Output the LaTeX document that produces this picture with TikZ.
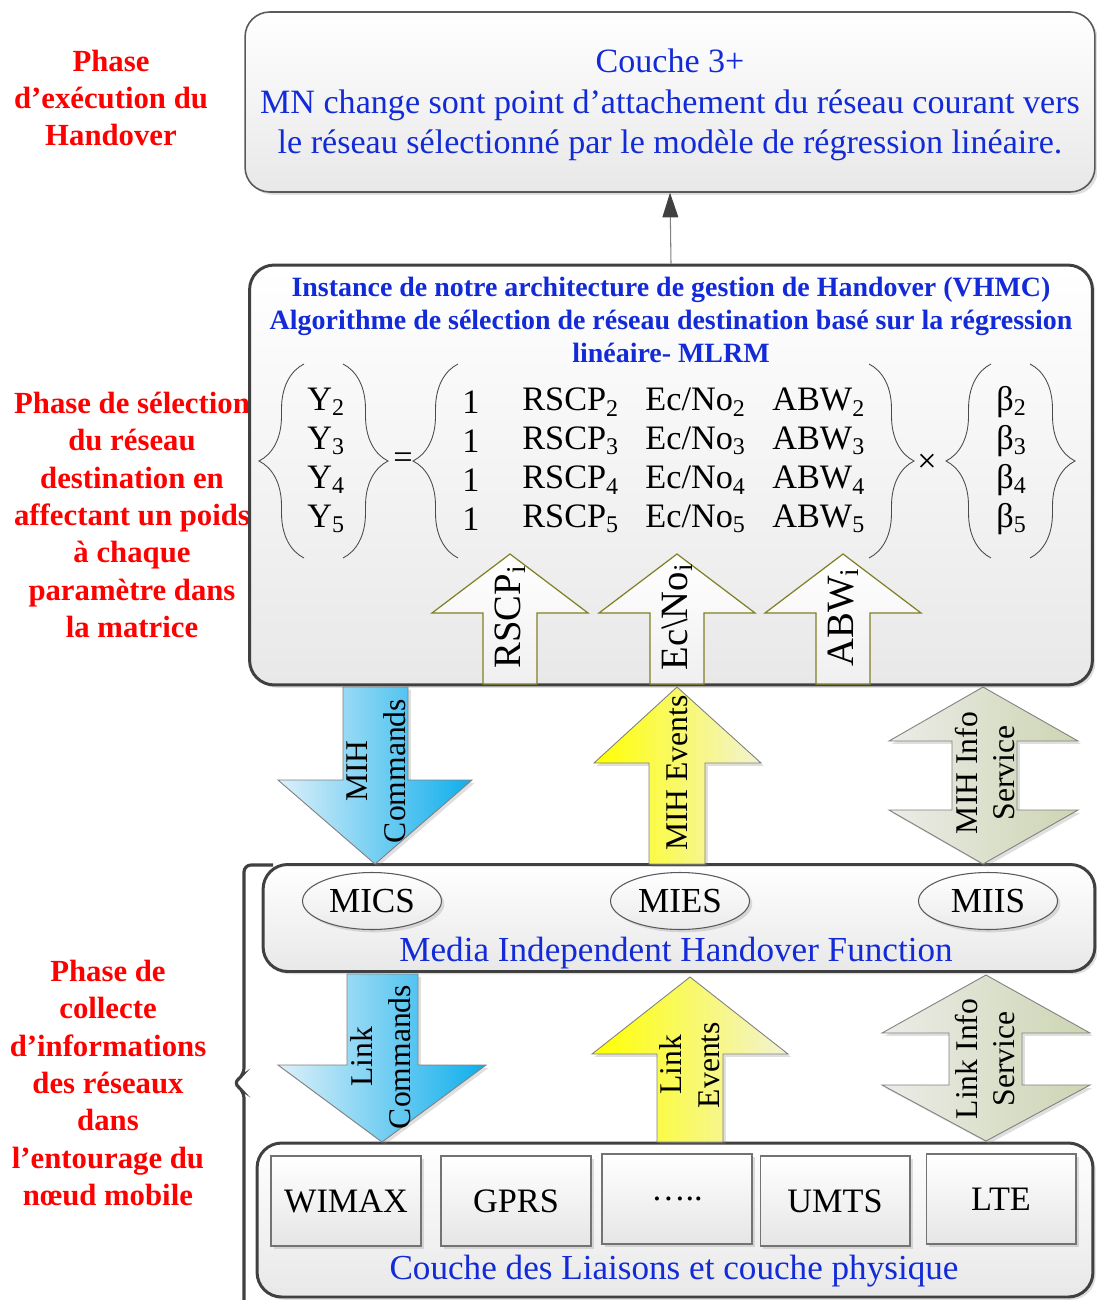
\documentclass[tikz,border=0pt]{standalone}
\usepackage{fontspec}
\setmainfont{Liberation Serif}
\usetikzlibrary{arrows.meta,shadows,shapes.geometric,decorations.pathreplacing}

\definecolor{phasered}{RGB}{255,0,0}
\definecolor{txtblue}{RGB}{18,42,215}
\definecolor{cmdL}{RGB}{222,240,249}
\definecolor{cmdR}{RGB}{14,174,236}
\definecolor{evtL}{RGB}{255,255,0}
\definecolor{evtR}{RGB}{242,242,212}
\definecolor{infoL}{RGB}{236,236,232}
\definecolor{infoR}{RGB}{204,213,178}
\definecolor{olive}{RGB}{128,128,36}

\begin{document}
\begin{tikzpicture}[x=0.02cm,y=-0.02cm,
  shd/.style={drop shadow={opacity=0.25,shadow xshift=1.6pt,shadow yshift=-1.6pt}},
  panel/.style={draw=black!75,line width=1.7pt,rounded corners=14pt,top color=white,bottom color=black!9,shd},
  ttl/.style={font=\fontsize{19.4}{23.2}\selectfont,text=txtblue,align=center},
  hdr/.style={font=\bfseries\fontsize{15.9}{18.7}\selectfont,text=txtblue,align=center},
  phase/.style={font=\bfseries\fontsize{17.5}{21.3}\selectfont,text=phasered,align=center},
  ent/.style={font=\fontsize{19.5}{23}\selectfont,inner sep=0pt},
  brc/.style={decorate,decoration={brace,amplitude=0.9cm},draw=black!70,line width=0.5pt},
  parr/.style={draw=olive,line width=0.7pt,top color=white,bottom color=black!6},
  partxt/.style={font=\fontsize{22}{26}\selectfont,rotate=90,inner sep=0pt},
  cmdarr/.style={draw=black!50,line width=0.5pt,left color=cmdL,right color=cmdR,shd},
  evtarr/.style={draw=black!50,line width=0.5pt,left color=evtL,right color=evtR,shd},
  infoarr/.style={draw=black!50,line width=0.5pt,left color=infoL,right color=infoR,shd},
  arrtxt/.style={font=\fontsize{18}{21.5}\selectfont,rotate=90,align=center,inner sep=0pt},
  ell/.style={ellipse,draw=black!65,line width=0.6pt,top color=white,bottom color=black!8,minimum width=2.78cm,minimum height=1.14cm,inner sep=0pt,font=\fontsize{20}{24}\selectfont,shd},
  netbox/.style={draw=black!55,line width=0.6pt,top color=white,bottom color=black!10,minimum width=3cm,minimum height=1.8cm,font=\fontsize{19.5}{23}\selectfont,shd}]
\useasboundingbox (0,0) rectangle (1097,1300);

% phases
\node[phase] (ph1) at (111,98) {Phase\\d’exécution du\\Handover};
\node[phase] (ph2) at (132,515) {Phase de sélection\\du réseau\\destination en\\affectant un poids\\à chaque\\paramètre dans\\la matrice};
\node[phase] (ph3) at (108,1083) {Phase de\\collecte\\d’informations\\des réseaux\\dans\\l’entourage du\\nœud mobile};
\draw[black!75,line width=1.8pt,rounded corners=4pt] (273,865) -- (244,865) -- (244,1075) -- (233,1083) -- (244,1091) -- (244,1306);

% layer 3+
\node[panel,draw=black!65,line width=0.9pt,minimum width=17cm,minimum height=3.6cm] (exec) at (670,102) {};
\node[ttl] (exectxt) at (670,105) {Couche 3+\\MN change sont point d’attachement du réseau courant vers\\le réseau sélectionné par le modèle de régression linéaire.};

% selection (VHMC)
\node[panel,minimum width=16.86cm,minimum height=8.4cm] (sel) at (671,475) {};
\node[hdr] (selhdr) at (671,320) {Instance de notre architecture de gestion de Handover (VHMC)\\Algorithme de sélection de réseau destination basé sur la régression\\linéaire- MLRM};
\draw[-{Triangle[length=14pt,width=9pt,color=black!75]},black!50,line width=0.6pt] (sel.north) -- (exec.south);

\foreach \r/\y in {2/402,3/441,4/480,5/519}{
  \node[ent,anchor=west] (y\r) at (307,\y) {Y\textsubscript{\r}};
  \node[ent] (one\r) at (471,\y) {1};
  \node[ent,anchor=west] (rscp\r) at (522,\y) {RSCP\textsubscript{\r}};
  \node[ent,anchor=west] (ecno\r) at (645,\y) {Ec/No\textsubscript{\r}};
  \node[ent,anchor=west] (abw\r) at (772,\y) {ABW\textsubscript{\r}};
  \node[ent,anchor=west] (beta\r) at (996,\y) {β\textsubscript{\r}};
}
\node[ent] (eq) at (403,461) {=};
\node[ent] (times) at (927,463) {×};
\draw[brc] (304,558) -- (304,364);
\draw[brc] (343,364) -- (343,558);
\draw[brc] (458,558) -- (458,364);
\draw[brc] (869,364) -- (869,558);
\draw[brc] (991,558) -- (991,364);
\draw[brc] (1030,364) -- (1030,558);

% parameters
\foreach \c/\n/\t in {510/prscp/{RSCP\textsubscript{i}},677/pecno/{Ec\textbackslash No\textsubscript{i}},843/pabw/{ABW\textsubscript{i}}}{
  \draw[parr] ({\c-27},684) -- ({\c-27},613) -- ({\c-78},613) -- (\c,554) -- ({\c+78},613) -- ({\c+27},613) -- ({\c+27},684) -- cycle;
  \node[partxt] (\n) at (\c,617) {\t};
}

% MIHF
\node[panel,minimum width=16.64cm,minimum height=2.14cm] (mihf) at (679,918) {};
\node[ell] (mics) at (372,901) {MICS};
\node[ell] (mies) at (680,901) {MIES};
\node[ell] (miis) at (988,901) {MIIS};
\node[ttl,font=\fontsize{20}{24}\selectfont] (mihftxt) at (676,953) {Media Independent Handover Function};

% MIH primitives
\draw[cmdarr] (343,687) -- (408,687) -- (408,780) -- (472,780) -- (375,864) -- (278,780) -- (343,780) -- cycle;
\node[arrtxt] (mihcmd) at (376,771) {MIH\\Commands};
\draw[evtarr] (649,864) -- (649,763) -- (594,763) -- (677,687) -- (761,763) -- (705,763) -- (705,864) -- cycle;
\node[arrtxt] (mihevt) at (677,773) {MIH Events};
\draw[infoarr] (983,687) -- (1078,741) -- (1017,741) -- (1017,810) -- (1078,810) -- (983,864) -- (889,810) -- (952,810) -- (952,741) -- (889,741) -- cycle;
\node[arrtxt] (mihinfo) at (985,773) {MIH Info\\Service};

% link layer
\node[panel,minimum width=16.72cm,minimum height=3.08cm] (phy) at (675,1220) {};
\node[netbox] (wimax) at (346,1201) {WIMAX};
\node[netbox] (gprs) at (516,1201) {GPRS};
\node[netbox] (dots) at (677,1199) {…..};
\node[netbox] (umts) at (835,1201) {UMTS};
\node[netbox] (lte) at (1001,1199) {LTE};
\node[ttl,font=\fontsize{20}{24}\selectfont] (phytxt) at (674,1271) {Couche des Liaisons et couche physique};

% link primitives
\draw[cmdarr] (347,974) -- (418,974) -- (418,1065) -- (486,1065) -- (382,1142) -- (278,1065) -- (347,1065) -- cycle;
\node[arrtxt] (lnkcmd) at (381,1057) {Link\\Commands};
\draw[evtarr] (657,1142) -- (657,1054) -- (592,1054) -- (690,977) -- (788,1054) -- (723,1054) -- (723,1142) -- cycle;
\node[arrtxt] (lnkevt) at (690,1065) {Link\\Events};
\draw[infoarr] (986,975) -- (1090,1033) -- (1022,1033) -- (1022,1085) -- (1090,1085) -- (986,1141) -- (882,1085) -- (949,1085) -- (949,1033) -- (882,1033) -- cycle;
\node[arrtxt] (lnkinfo) at (985,1059) {Link Info\\Service};
\end{tikzpicture}
\end{document}
